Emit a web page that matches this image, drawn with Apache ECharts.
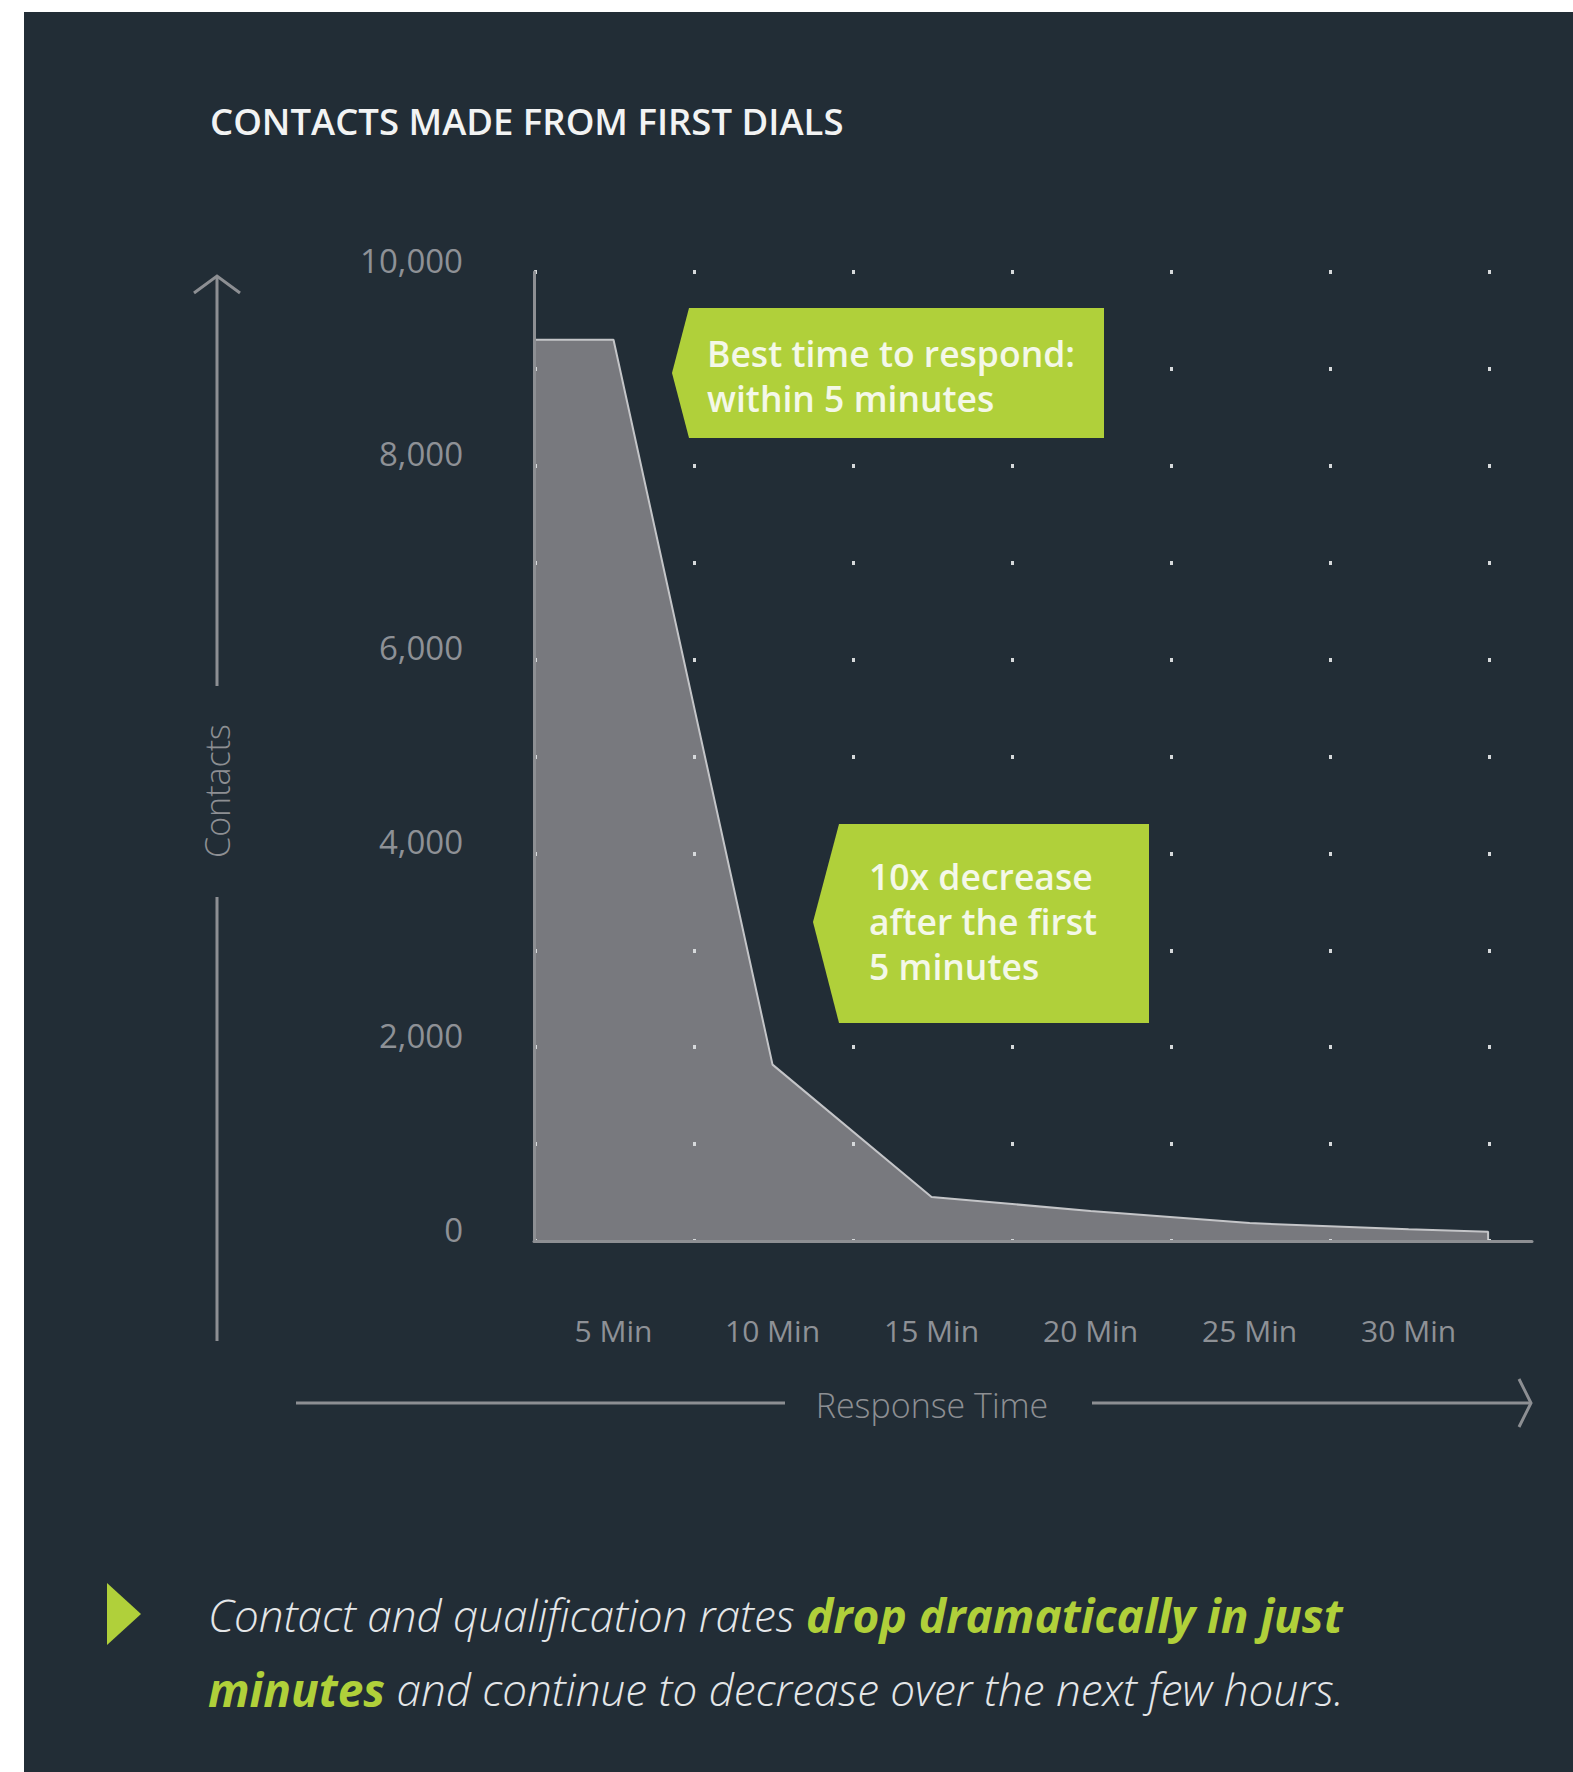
<!DOCTYPE html>
<html>
<head>
<meta charset="utf-8">
<title>Contacts made from first dials</title>
<script src="https://cdn.jsdelivr.net/npm/echarts@6/dist/echarts.min.js"></script>
<style>
  body { margin: 0; background: #ffffff; }
  #panel { position: absolute; left: 24px; top: 12px; right: 0; bottom: 0; background: #222d36; }
  #chart { position: absolute; left: 0; top: 0; width: 1573px; height: 1772px; }
</style>
</head>
<body>
<div id="panel"></div>
<div id="chart"></div>
<script>
// values (minutes after the lead came in -> contacts)
const minutes = [2.5, 5, 10, 15, 20, 25, 30, 32.5, 32.5];
const contacts = [9300, 9300, 1820, 455, 310, 185, 120, 95, 0];

const minuteLabels = [5, 10, 15, 20, 25, 30];
const contactLabels = [0, 2000, 4000, 6000, 8000, 10000];

const green = "#b0d03a";
const axisGrey = "#8d8f93";
const labelGrey = "#8e9196";
const font = "'Open Sans', 'DejaVu Sans', sans-serif";

const chart = echarts.init(document.getElementById("chart"), null, { renderer: "svg" });

const option = {
  backgroundColor: "transparent",
  textStyle: { fontFamily: font },
  title: [
    {
      text: "CONTACTS MADE FROM FIRST DIALS",
      left: 210,
      top: 103,
      padding: 0,
      textStyle: { color: "#f2f3f3", fontSize: 36.5, fontWeight: 600, lineHeight: 36, fontFamily: font },
    },
    {
      text:
        "{a|Contact and qualification rates }{b|drop dramatically in just}\n" +
        "{b|minutes}{a| and continue to decrease over the next few hours.}",
      left: 208,
      top: 1578,
      padding: 0,
      textStyle: {
        rich: {
          a: { color: "#e4e6e8", fontSize: 44, fontStyle: "italic", fontWeight: 300, lineHeight: 74, fontFamily: font },
          b: { color: green, fontSize: 46, fontStyle: "italic", fontWeight: 700, lineHeight: 74, fontFamily: font },
        },
      },
    },
  ],
  grid: { left: 534, top: 272, width: 998, height: 969 },
  xAxis: {
    type: "value",
    min: 2.5,
    max: 33.88,
    interval: 2.5,
    z: 3,
    axisLine: { show: true, lineStyle: { color: axisGrey, width: 3 } },
    axisTick: { show: false },
    splitLine: { show: false },
    axisLabel: {
      formatter: (v) => (minuteLabels.includes(v) ? v + " Min" : ""),
      margin: 74,
      color: labelGrey,
      fontSize: 30,
      lineHeight: 30,
      showMinLabel: false,
      showMaxLabel: false,
    },
  },
  yAxis: {
    type: "value",
    min: 0,
    max: 10000,
    interval: 1000,
    z: 3,
    axisLine: { show: true, lineStyle: { color: axisGrey, width: 3 } },
    axisTick: { show: false },
    axisLabel: {
      formatter: (v) => (contactLabels.includes(v) ? v.toLocaleString("en-US") : ""),
      margin: 71,
      color: labelGrey,
      fontSize: 33,
      lineHeight: 24,
      verticalAlign: "bottom",
    },
    // the dotted grid: short dashes where rows and columns cross
    splitLine: { show: true, lineStyle: { color: "#d6d9db", width: 4, type: [3, 156] } },
  },
  series: [
    {
      type: "line",
      data: minutes.map((m, i) => [m, contacts[i]]),
      symbol: "none",
      z: 2,
      lineStyle: { color: "#c4c5c8", width: 2 },
      areaStyle: { color: "#78797e", opacity: 1 },
    },
  ],
  graphic: {
    elements: [
      // Contacts arrow
      { type: "line", shape: { x1: 217, y1: 276, x2: 217, y2: 686 }, style: { stroke: axisGrey, lineWidth: 3 } },
      { type: "line", shape: { x1: 217, y1: 897, x2: 217, y2: 1341 }, style: { stroke: axisGrey, lineWidth: 3 } },
      { type: "polyline", shape: { points: [[194, 293], [217, 276], [240, 293]] }, style: { stroke: axisGrey, lineWidth: 3, fill: null } },
      {
        type: "text",
        x: 217,
        y: 791,
        rotation: Math.PI / 2,
        style: { text: "Contacts", fill: axisGrey, font: "300 34px " + font, textAlign: "center", textVerticalAlign: "middle" },
      },
      // Response time arrow
      { type: "line", shape: { x1: 296, y1: 1403, x2: 785, y2: 1403 }, style: { stroke: axisGrey, lineWidth: 3 } },
      { type: "line", shape: { x1: 1092, y1: 1403, x2: 1530, y2: 1403 }, style: { stroke: axisGrey, lineWidth: 3 } },
      { type: "polyline", shape: { points: [[1519, 1379], [1531, 1403], [1519, 1427]] }, style: { stroke: axisGrey, lineWidth: 3, fill: null } },
      {
        type: "text",
        x: 932,
        y: 1405,
        style: { text: "Response Time", fill: axisGrey, font: "300 34px " + font, textAlign: "center", textVerticalAlign: "middle" },
      },
      // callouts, drawn over the dotted grid
      {
        type: "polygon",
        z: 10,
        shape: { points: [[672, 373], [689, 308], [1104, 308], [1104, 438], [689, 438]] },
        style: { fill: green },
      },
      {
        type: "text",
        z: 11,
        x: 707,
        y: 375,
        style: {
          text: "Best time to respond:\nwithin 5 minutes",
          fill: "#f4f8e8",
          font: "600 35.5px " + font,
          lineHeight: 45,
          textAlign: "left",
          textVerticalAlign: "middle",
        },
      },
      {
        type: "polygon",
        z: 10,
        shape: { points: [[813, 922], [839, 824], [1149, 824], [1149, 1023], [839, 1023]] },
        style: { fill: green },
      },
      {
        type: "text",
        z: 11,
        x: 869,
        y: 921,
        style: {
          text: "10x decrease\nafter the first\n5 minutes",
          fill: "#f4f8e8",
          font: "600 35.5px " + font,
          lineHeight: 45,
          textAlign: "left",
          textVerticalAlign: "middle",
        },
      },
      // bullet
      { type: "polygon", shape: { points: [[107, 1583], [141, 1614], [107, 1645]] }, style: { fill: green } },
    ],
  },
};

chart.setOption(option);
</script>
</body>
</html>
